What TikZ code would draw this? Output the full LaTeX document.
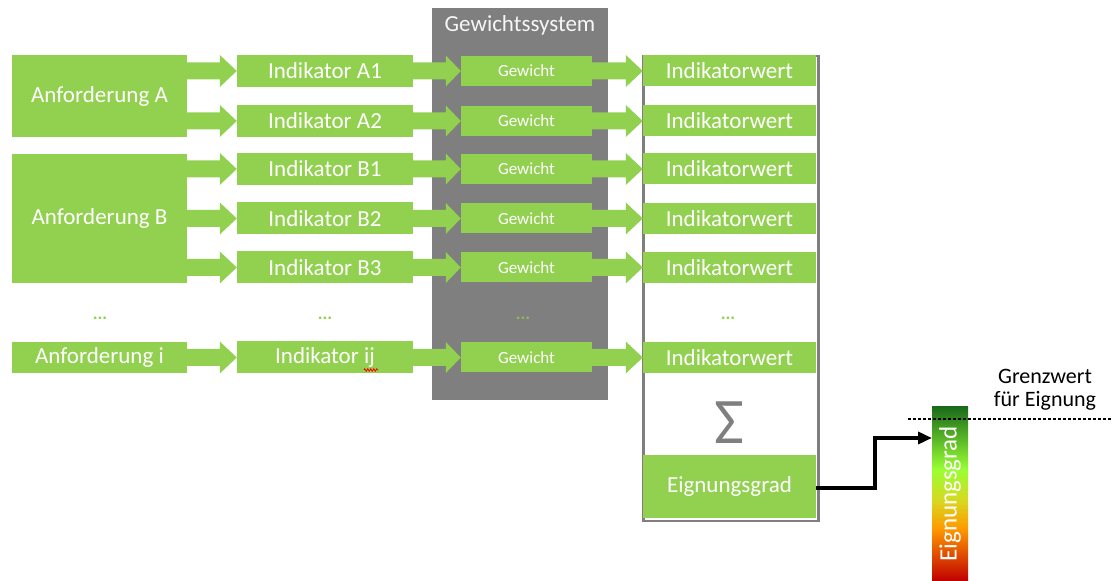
\documentclass[tikz,border=0pt]{standalone}
\usepackage{fontspec}
\setmainfont{Carlito}
\usetikzlibrary{calc,arrows.meta,decorations.pathmorphing}
\definecolor{gr}{HTML}{92D050}
\definecolor{gy}{HTML}{7F7F7F}
\definecolor{cA}{HTML}{C00000}
\definecolor{cB}{HTML}{FF9900}
\definecolor{cC}{HTML}{D8D820}
\definecolor{cD}{HTML}{99FF33}
\definecolor{cE}{HTML}{1A6B1A}
\pgfdeclareverticalshading{eig}{50bp}{color(0bp)=(cA); color(25bp)=(cA); color(40bp)=(cB); color(48bp)=(cC); color(57bp)=(cD); color(75bp)=(cE); color(100bp)=(cE)}
\newcommand\fatarr[5]{%
  \fill[gr] ($(#1.east|-#2.west)+(0,#3)$) -- ($(#2.west)+(-#5,#3)$) -- ($(#2.west)+(-#5,#4)$) -- (#2.west) -- ($(#2.west)+(-#5,-#4)$) -- ($(#2.west)+(-#5,-#3)$) -- ($(#1.east|-#2.west)+(0,-#3)$) -- cycle;}
\begin{document}
\begin{tikzpicture}[x=1pt,y=1pt,
  gbox/.style={fill=gr, text=white, inner sep=0pt, font=\fontsize{23}{25}\selectfont},
  anf/.style={gbox, minimum width=175},
  ind/.style={gbox, minimum width=176, minimum height=32},
  gew/.style={gbox, minimum width=131, minimum height=30, font=\fontsize{17}{19}\selectfont},
  iwert/.style={gbox, minimum width=173, minimum height=31},
  dots/.style={text=gr, font=\fontsize{18}{20}\selectfont\bfseries}]
\useasboundingbox (0,0) rectangle (1112,581);
% weight system background
\node[fill=gy, minimum width=176, minimum height=392, inner sep=0pt, anchor=north west] (ws) at (432,573) {};
\node[text=white!93!gy, font=\fontsize{23}{25}\selectfont] (wstitle) at (520,556) {Gewichtssystem};
% result panel
\node[draw=gy, line width=2.5, minimum width=175, minimum height=465, inner sep=0pt, anchor=north west] (panel) at (642,526) {};
% requirements
\node[anf, minimum height=82] (anfA) at (99.5,485) {Anforderung A};
\node[anf, minimum height=129] (anfB) at (99.5,362.5) {Anforderung B};
\node[anf, minimum height=31] (anfI) at (99.5,223.5) {Anforderung i};
% indicators
\node[ind] (indA1) at (325,510) {Indikator A1};
\node[ind] (indA2) at (325,460) {Indikator A2};
\node[ind] (indB1) at (325,412) {Indikator B1};
\node[ind] (indB2) at (325,362.5) {Indikator B2};
\node[ind] (indB3) at (325,313.5) {Indikator B3};
\node[ind] (indIJ) at (325,223.5) {Indikator ij};
\draw[red, line width=0.8, decorate, decoration={zigzag, amplitude=1.2, segment length=3}] (364,211) -- (378,211);
% weights
\node[gew] (gA1) at (526.5,510) {Gewicht};
\node[gew] (gA2) at (526.5,460) {Gewicht};
\node[gew] (gB1) at (526.5,412) {Gewicht};
\node[gew] (gB2) at (526.5,362.5) {Gewicht};
\node[gew] (gB3) at (526.5,313.5) {Gewicht};
\node[gew] (gIJ) at (526.5,223.5) {Gewicht};
% indicator values
\node[iwert] (wA1) at (729.5,510) {Indikatorwert};
\node[iwert] (wA2) at (729.5,460) {Indikatorwert};
\node[iwert] (wB1) at (729.5,412) {Indikatorwert};
\node[iwert] (wB2) at (729.5,362.5) {Indikatorwert};
\node[iwert] (wB3) at (729.5,313.5) {Indikatorwert};
\node[iwert] (wIJ) at (729.5,223.5) {Indikatorwert};
% dots
\node[dots] (d1) at (100,263) {...};
\node[dots] (d2) at (325,263) {...};
\node[dots, text=gr!70!gy] (d3) at (523,263) {...};
\node[dots] (d4) at (728,263) {...};
% sum and result
\node[text=gy, font=\fontsize{65}{67}\selectfont] (sig) at (729.5,158) {Σ};
\node[gbox, minimum width=173, minimum height=63] (eg) at (729.5,94.5) {Eignungsgrad};
% fat arrows
\fatarr{anfA}{indA1}{8.5}{16}{17}
\fatarr{anfA}{indA2}{8.5}{16}{17}
\fatarr{anfB}{indB1}{8.5}{16}{17}
\fatarr{anfB}{indB2}{8.5}{16}{17}
\fatarr{anfB}{indB3}{8.5}{16}{17}
\fatarr{anfI}{indIJ}{8.5}{16}{17}
\fatarr{indA1}{gA1}{8.5}{15.5}{15}
\fatarr{indA2}{gA2}{8.5}{15.5}{15}
\fatarr{indB1}{gB1}{8.5}{15.5}{15}
\fatarr{indB2}{gB2}{8.5}{15.5}{15}
\fatarr{indB3}{gB3}{8.5}{15.5}{15}
\fatarr{indIJ}{gIJ}{8.5}{15.5}{15}
\fatarr{gA1}{wA1}{8.5}{16}{17}
\fatarr{gA2}{wA2}{8.5}{16}{17}
\fatarr{gB1}{wB1}{8.5}{16}{17}
\fatarr{gB2}{wB2}{8.5}{16}{17}
\fatarr{gB3}{wB3}{8.5}{16}{17}
\fatarr{gIJ}{wIJ}{8.5}{16}{17}
% gradient bar
\node[shading=eig, minimum width=36, minimum height=174, inner sep=0pt, anchor=south west] (bar) at (932,0) {};
\node[rotate=90, text=white, font=\fontsize{25}{27}\selectfont] (barlbl) at (bar.center) {Eignungsgrad};
\coordinate (tgt) at (bar.west |- 0,143);
\draw[line width=3.5, -{Triangle[length=14,width=12]}] (eg.east |- 0,93) -| (875,118) |- (tgt);
% threshold
\coordinate (th1) at (908,162);
\coordinate (th2) at (1112,162);
\draw[line width=2.5, dash pattern=on 2.5 off 2.5] (th1) -- (th2);
\node[align=center, font=\fontsize{22}{23}\selectfont, inner sep=0pt] (grenz) at (1045,191) {Grenzwert\\für Eignung};
\end{tikzpicture}
\end{document}
